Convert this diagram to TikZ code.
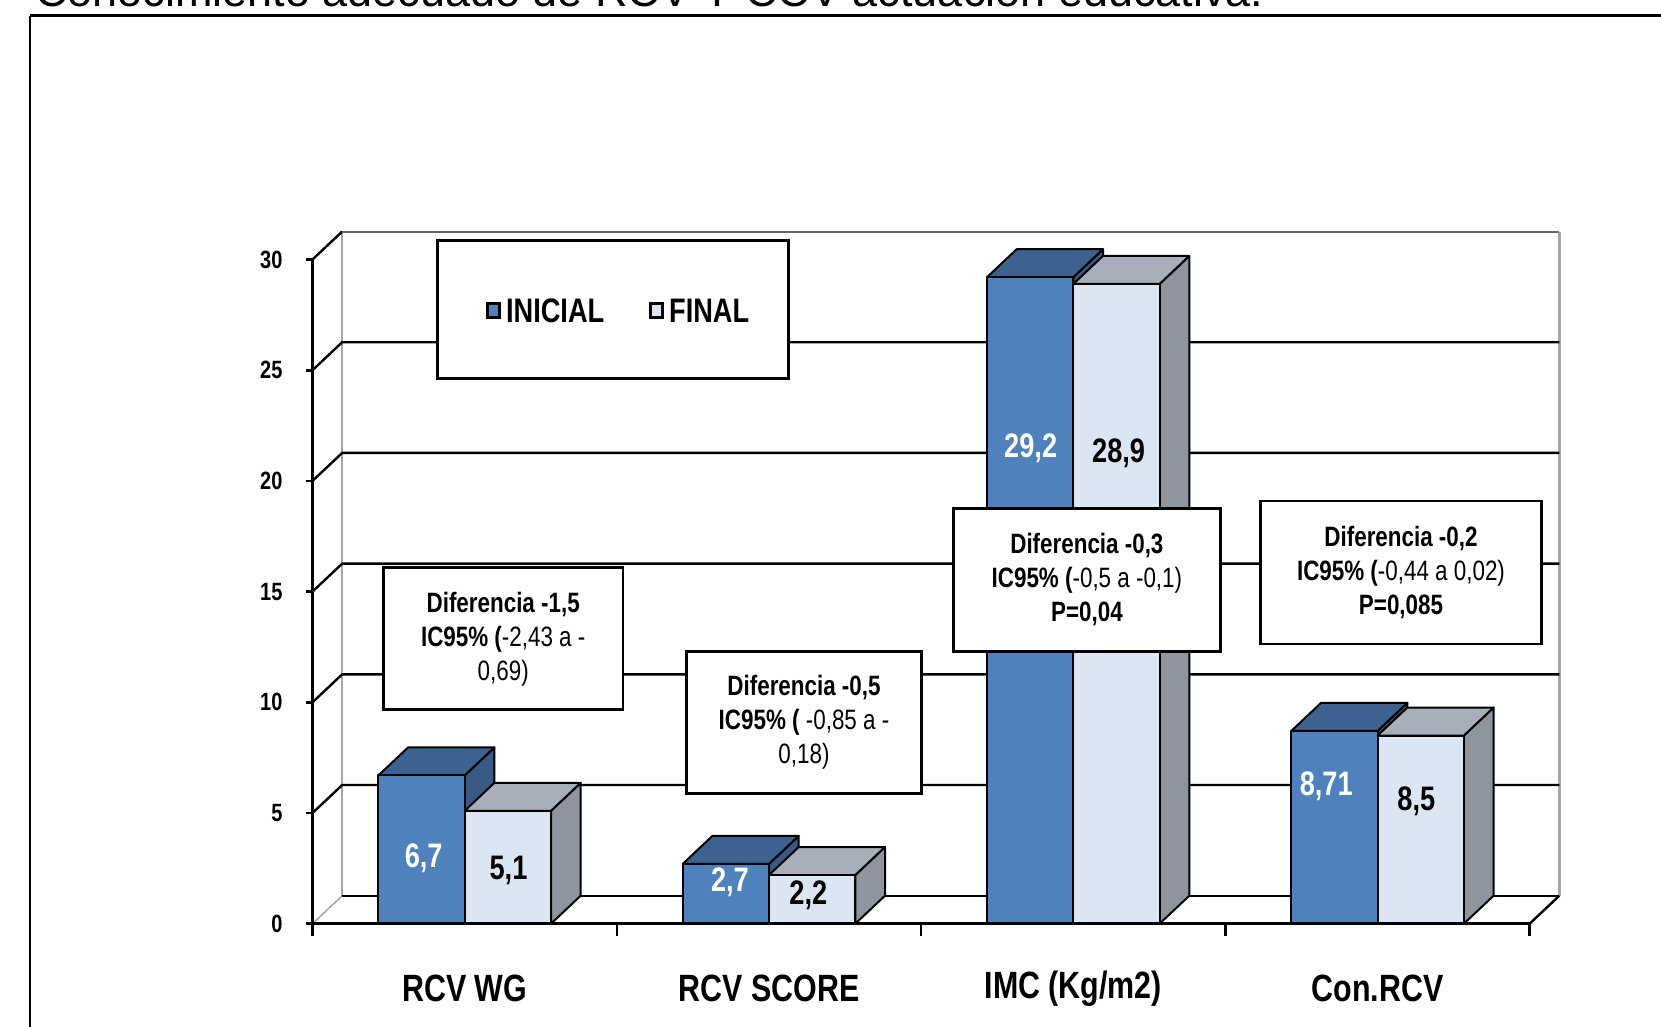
\documentclass[tikz,border=0pt]{standalone}
\usepackage{fontspec}
\usetikzlibrary{positioning}
\newfontfamily\chartfont[FakeStretch=0.8]{Liberation Sans}
\newfontfamily\titlefont{Liberation Sans}
\definecolor{inicial}{HTML}{4F81BD}
\definecolor{inicialtop}{HTML}{3D6290}
\definecolor{inicialside}{HTML}{385A85}
\definecolor{final}{HTML}{DCE6F2}
\definecolor{finaltop}{HTML}{A8AFBA}
\definecolor{finalside}{HTML}{8E959E}

\begin{document}
\begin{tikzpicture}[x=1pt, y=-1pt,
  grid/.style={line width=2.4pt, black},
  wall/.style={line width=2pt, gray!70},
  axis/.style={line width=2.6pt, black},
  bar/.style={draw=black, line width=2pt, line join=round},
  infobox/.style={draw, line width=2.8pt, fill=white, align=center, inner sep=0pt,
                  font=\chartfont\fontsize{28}{34}\selectfont},
  keybox/.style={draw, line width=2.5pt, minimum width=12pt, minimum height=14pt, inner sep=0pt},
  keytext/.style={inner sep=0pt, font=\chartfont\bfseries\fontsize{34}{40}\selectfont},
  value/.style={font=\chartfont\bfseries\fontsize{34}{40}\selectfont},
  category/.style={font=\chartfont\bfseries\fontsize{38}{44}\selectfont},
  ticklabel/.style={anchor=east, font=\chartfont\bfseries\fontsize{25}{30}\selectfont},
]
\useasboundingbox (0,0) rectangle (1661,1027);

% cut-off title and outer frame
\node[anchor=base west, inner sep=0pt, font=\titlefont\fontsize{45}{54}\selectfont] (title) at (35,7)
  {Conocimiento adecuado de RCV Y CCV actuación educativa.};
\draw[line width=3pt] (30,16) -- (1675,16);
\draw[line width=2pt] (30,16) -- (30,1040);

% walls and grid
\draw[wall] (342.2,895.7) -- (342.2,231.5);
\draw[wall, line width=2.6pt] (1559.3,895.7) -- (1559.3,231.5);
\draw[wall, line width=1.5pt] (312.5,923.7) -- (342.2,895.7);
\draw[grid] (342.2,895.7) -- (1559.3,895.7);
\draw[grid] (1529.6,923.7) -- (1559.3,895.7);
\foreach \yf/\yb in {813.0/785.0, 702.3/674.3, 591.6/563.6, 480.9/452.9, 370.2/342.2}
  \draw[grid] (312.5,\yf) -- (342.2,\yb) -- (1559.3,\yb);
\draw[grid] (312.5,259.5) -- (342.2,231.5);
\draw[line width=2pt, gray!80!black] (342.2,231.5) -- (1559.3,231.5);

% RCV WG
\filldraw[bar, fill=inicialside] (464.7,923.7) -- (464.7,775.4) -- ++(29.7,-28) -- (494.4,895.7) -- cycle;
\filldraw[bar, fill=inicialtop] (378.4,775.4) -- ++(29.7,-28) -- ++(86.3,0) -- (464.7,775.4) -- cycle;
\filldraw[bar, fill=inicial] (378.4,923.7) rectangle (464.7,775.4);
\filldraw[bar, fill=finalside] (551.0,923.7) -- (551.0,810.8) -- ++(29.7,-28) -- (580.7,895.7) -- cycle;
\filldraw[bar, fill=finaltop] (464.7,810.8) -- ++(29.7,-28) -- ++(86.3,0) -- (551.0,810.8) -- cycle;
\filldraw[bar, fill=final] (464.7,923.7) rectangle (551.0,810.8);

% RCV SCORE
\filldraw[bar, fill=inicialside] (769.0,923.7) -- (769.0,863.9) -- ++(29.7,-28) -- (798.7,895.7) -- cycle;
\filldraw[bar, fill=inicialtop] (682.7,863.9) -- ++(29.7,-28) -- ++(86.3,0) -- (769.0,863.9) -- cycle;
\filldraw[bar, fill=inicial] (682.7,923.7) rectangle (769.0,863.9);
\filldraw[bar, fill=finalside] (855.3,923.7) -- (855.3,875.0) -- ++(29.7,-28) -- (885.0,895.7) -- cycle;
\filldraw[bar, fill=finaltop] (769.0,875.0) -- ++(29.7,-28) -- ++(86.3,0) -- (855.3,875.0) -- cycle;
\filldraw[bar, fill=final] (769.0,923.7) rectangle (855.3,875.0);

% IMC
\filldraw[bar, fill=inicialside] (1073.3,923.7) -- (1073.3,277.2) -- ++(29.7,-28) -- (1103.0,895.7) -- cycle;
\filldraw[bar, fill=inicialtop] (987.0,277.2) -- ++(29.7,-28) -- ++(86.3,0) -- (1073.3,277.2) -- cycle;
\filldraw[bar, fill=inicial] (987.0,923.7) rectangle (1073.3,277.2);
\filldraw[bar, fill=finalside] (1159.6,923.7) -- (1159.6,283.9) -- ++(29.7,-28) -- (1189.3,895.7) -- cycle;
\filldraw[bar, fill=finaltop] (1073.3,283.9) -- ++(29.7,-28) -- ++(86.3,0) -- (1159.6,283.9) -- cycle;
\filldraw[bar, fill=final] (1073.3,923.7) rectangle (1159.6,283.9);

% Con.RCV
\filldraw[bar, fill=inicialside] (1377.6,923.7) -- (1377.6,730.9) -- ++(29.7,-28) -- (1407.3,895.7) -- cycle;
\filldraw[bar, fill=inicialtop] (1291.3,730.9) -- ++(29.7,-28) -- ++(86.3,0) -- (1377.6,730.9) -- cycle;
\filldraw[bar, fill=inicial] (1291.3,923.7) rectangle (1377.6,730.9);
\filldraw[bar, fill=finalside] (1463.9,923.7) -- (1463.9,735.5) -- ++(29.7,-28) -- (1493.6,895.7) -- cycle;
\filldraw[bar, fill=finaltop] (1377.6,735.5) -- ++(29.7,-28) -- ++(86.3,0) -- (1463.9,735.5) -- cycle;
\filldraw[bar, fill=final] (1377.6,923.7) rectangle (1463.9,735.5);

% values
\node[value, text=white] (v1i) at (423.7,858.0) {6,7};
\node[value] (v1f) at (508.5,870.7) {5,1};
\node[value, text=white] (v2i) at (729.9,882.4) {2,7};
\node[value] (v2f) at (808.3,895.1) {2,2};
\node[value, text=white] (v3i) at (1030.7,448.1) {29,2};
\node[value] (v3f) at (1118.6,453.4) {28,9};
\node[value, text=white] (v4i) at (1326.2,786.0) {8,71};
\node[value] (v4f) at (1416.3,800.8) {8,5};

% axes
\draw[axis] (312.5,259.5) -- (312.5,923.7) -- (1529.6,923.7);
\foreach \x in {312.5, 616.8, 921.1, 1225.4, 1529.6}
  \draw[axis] (\x,923.7) -- (\x,936);
\foreach \v/\y in {0/923.7, 5/813.0, 10/702.3, 15/591.6, 20/480.9, 25/370.2, 30/259.5} {
  \draw[axis] (305.5,\y) -- (312.5,\y);
  \node[ticklabel] (tick\v) at (286,\y) {\v};
}

% categories
\node[category] (cwg) at (464.7,988.5) {RCV WG};
\node[category] (cscore) at (769.0,988.5) {RCV SCORE};
\node[category] (cimc) at (1073.3,988.5) {IMC (Kg/m2)};
\node[category] (ccon) at (1377.6,988.5) {Con.RCV};

% legend
\node[draw, line width=2.8pt, fill=white, minimum width=350.6pt, minimum height=137.7pt] (legend) at (612.8,309.3) {};
\node[keybox, fill=inicial] (keyini) at (493.6,310.4) {};
\node[keytext, right=5pt of keyini] (txtini) {INICIAL};
\node[keybox, fill=final] (keyfin) at (656.7,310.4) {};
\node[keytext, right=5pt of keyfin] (txtfin) {FINAL};

% differences
\node[infobox, minimum width=239.4pt, minimum height=141.9pt] (dif1) at (503.2,638.8)
  {\textbf{Diferencia -1,5}\\\textbf{IC95\% (}-2,43 a -\\0,69)};
\node[infobox, minimum width=235.2pt, minimum height=141.9pt] (dif2) at (804.0,722.5)
  {\textbf{Diferencia -0,5}\\\textbf{IC95\% (} -0,85 a -\\0,18)};
\node[infobox, minimum width=266.9pt, minimum height=143pt] (dif3) at (1086.9,580.0)
  {\textbf{Diferencia -0,3}\\\textbf{IC95\% (}-0,5 a -0,1)\\\textbf{P=0,04}};
\node[infobox, minimum width=280.7pt, minimum height=143pt] (dif4) at (1401.0,572.5)
  {\textbf{Diferencia -0,2}\\\textbf{IC95\% (}-0,44 a 0,02)\\\textbf{P=0,085}};

\end{tikzpicture}
\end{document}
